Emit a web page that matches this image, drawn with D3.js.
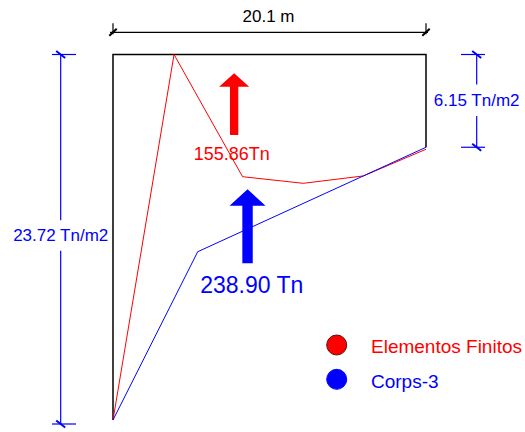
<!DOCTYPE html>
<html>
<head>
<meta charset="utf-8">
<script src="https://cdn.jsdelivr.net/npm/d3@7"></script>
<style>
  html, body { margin: 0; padding: 0; background: #fff; }
  svg { display: block; font-family: "Liberation Sans", Arial, sans-serif; }
</style>
</head>
<body>
<svg id="chart" width="525" height="432"></svg>
<script>
// Pressure diagram along the wall: distance (m) vs. pressure (Tn/m2)
const seriesNames = ["Elementos Finitos", "Corps-3"];
const femDist = [0, 3.92, 8.32, 12.22, 16.08, 20.1];
const femPress = [23.72, 0, 7.93, 8.36, 7.88, 6.15];
const corpsDist = [0, 5.44, 20.1];
const corpsPress = [23.72, 12.80, 6.02];
const outlineDist = [0, 0, 20.1, 20.1];
const outlinePress = [23.72, 0, 0, 6.02];
const resultantValues = [155.86, 238.90];
const resultantLabels = ["155.86Tn", "238.90 Tn"];
const spanLength = 20.1;
const spanLabel = "20.1 m";
const pressMax = 23.72;
const pressEnd = 6.15;
const pressLabels = ["23.72 Tn/m2", "6.15 Tn/m2"];

const colors = ["#ff0000", "#0000ff"];

const svg = d3.select("#chart");

const x = d3.scaleLinear().domain([0, spanLength]).range([113, 426]);
const y = d3.scaleLinear().domain([0, pressMax]).range([54.5, 420]);

const line = d3.line().x(d => x(d[0])).y(d => y(d[1]));

// wall outline
svg.append("path")
  .datum(d3.zip(outlineDist, outlinePress))
  .attr("d", line)
  .attr("fill", "none")
  .attr("stroke", "#000")
  .attr("stroke-width", 1.5);

// pressure curves
const curves = [d3.zip(femDist, femPress), d3.zip(corpsDist, corpsPress)];
curves.forEach((pts, i) => {
  svg.append("path")
    .datum(pts)
    .attr("d", line)
    .attr("fill", "none")
    .attr("stroke", colors[i])
    .attr("stroke-width", 1);
});

// dimension helpers
function vDim(px, y0, y1, ext, label, color, baseDy, gapTop, gapBot) {
  const g = svg.append("g").attr("stroke", color);
  const mid = (y0 + y1) / 2;
  g.append("line").attr("x1", px).attr("x2", px).attr("y1", y0).attr("y2", mid + gapTop).attr("stroke-width", 1.2);
  g.append("line").attr("x1", px).attr("x2", px).attr("y1", mid + gapBot).attr("y2", y1).attr("stroke-width", 1.2);
  [y0, y1].forEach(yy => {
    g.append("line").attr("x1", px + ext[0]).attr("x2", px + ext[1]).attr("y1", yy).attr("y2", yy).attr("stroke-width", 1.2);
    g.append("line").attr("x1", px - 4.5).attr("x2", px + 4.5).attr("y1", yy - 3.5).attr("y2", yy + 3.5).attr("stroke-width", 2);
  });
  svg.append("text")
    .attr("x", px).attr("y", mid + baseDy)
    .attr("text-anchor", "middle")
    .attr("fill", color)
    .attr("font-size", 17)
    .text(label);
}

// top dimension: span length
(function () {
  const py = 32.3;
  const g = svg.append("g").attr("stroke", "#000");
  const x0 = x(0), x1 = x(spanLength);
  g.append("line").attr("x1", x0 - 3).attr("x2", x1 + 2).attr("y1", py).attr("y2", py).attr("stroke-width", 1.2);
  [x0, x1].forEach(xx => {
    g.append("line").attr("x1", xx).attr("x2", xx).attr("y1", py - 9).attr("y2", py + 2).attr("stroke-width", 1.2);
    g.append("line").attr("x1", xx - 3.7).attr("x2", xx + 3.7).attr("y1", py + 3.5).attr("y2", py - 3.5).attr("stroke-width", 2);
  });
  svg.append("text")
    .attr("x", (x0 + x1) / 2 - 1).attr("y", 22)
    .attr("text-anchor", "middle")
    .attr("fill", "#000")
    .attr("font-size", 17)
    .text(spanLabel);
})();

// left dimension: maximum pressure
vDim(60.7, y(0), y(pressMax) + 4, [-8.7, 15.3], pressLabels[0], colors[1], 1.5, -19, 11.5);
// right dimension: pressure at the end
vDim(476.7, y(0), y(pressEnd) - 2, [-15.7, 8.3], pressLabels[1], colors[1], 5.5, -16.5, 15);

// resultant arrows with labels
const arrows = [
  { at: 7.78, tip: 1.22, base: 5.23, head: 30, headLen: 13.4, shaft: 8.3, labelAt: 7.62, labelP: 6.85, size: 18 },
  { at: 8.64, tip: 8.75, base: 13.55, head: 36, headLen: 16.4, shaft: 10.4, labelAt: 8.91, labelP: 15.50, size: 23 }
];
arrows.forEach((a, i) => {
  const cx = x(a.at), ty = y(a.tip), by = y(a.base);
  const hy = ty + a.headLen;
  const pts = [
    [cx, ty], [cx + a.head / 2, hy], [cx + a.shaft / 2, hy], [cx + a.shaft / 2, by],
    [cx - a.shaft / 2, by], [cx - a.shaft / 2, hy], [cx - a.head / 2, hy]
  ];
  svg.append("path")
    .attr("d", "M" + pts.map(p => p.join(",")).join("L") + "Z")
    .attr("fill", colors[i]);
  svg.append("text")
    .attr("x", x(a.labelAt)).attr("y", y(a.labelP))
    .attr("text-anchor", "middle")
    .attr("fill", colors[i])
    .attr("font-size", a.size)
    .text(resultantLabels[i]);
});

// legend
const legend = svg.append("g").attr("transform", "translate(336.7,345)");
seriesNames.forEach((name, i) => {
  const row = legend.append("g").attr("transform", `translate(0,${i * 34.3})`);
  row.append("circle")
    .attr("r", 10)
    .attr("fill", colors[i])
    .attr("stroke", i === 0 ? "#5a1010" : colors[i])
    .attr("stroke-width", 1);
  row.append("text")
    .attr("x", 34.3).attr("y", 8.3)
    .attr("fill", colors[i])
    .attr("font-size", 19)
    .text(name);
});
</script>
</body>
</html>
